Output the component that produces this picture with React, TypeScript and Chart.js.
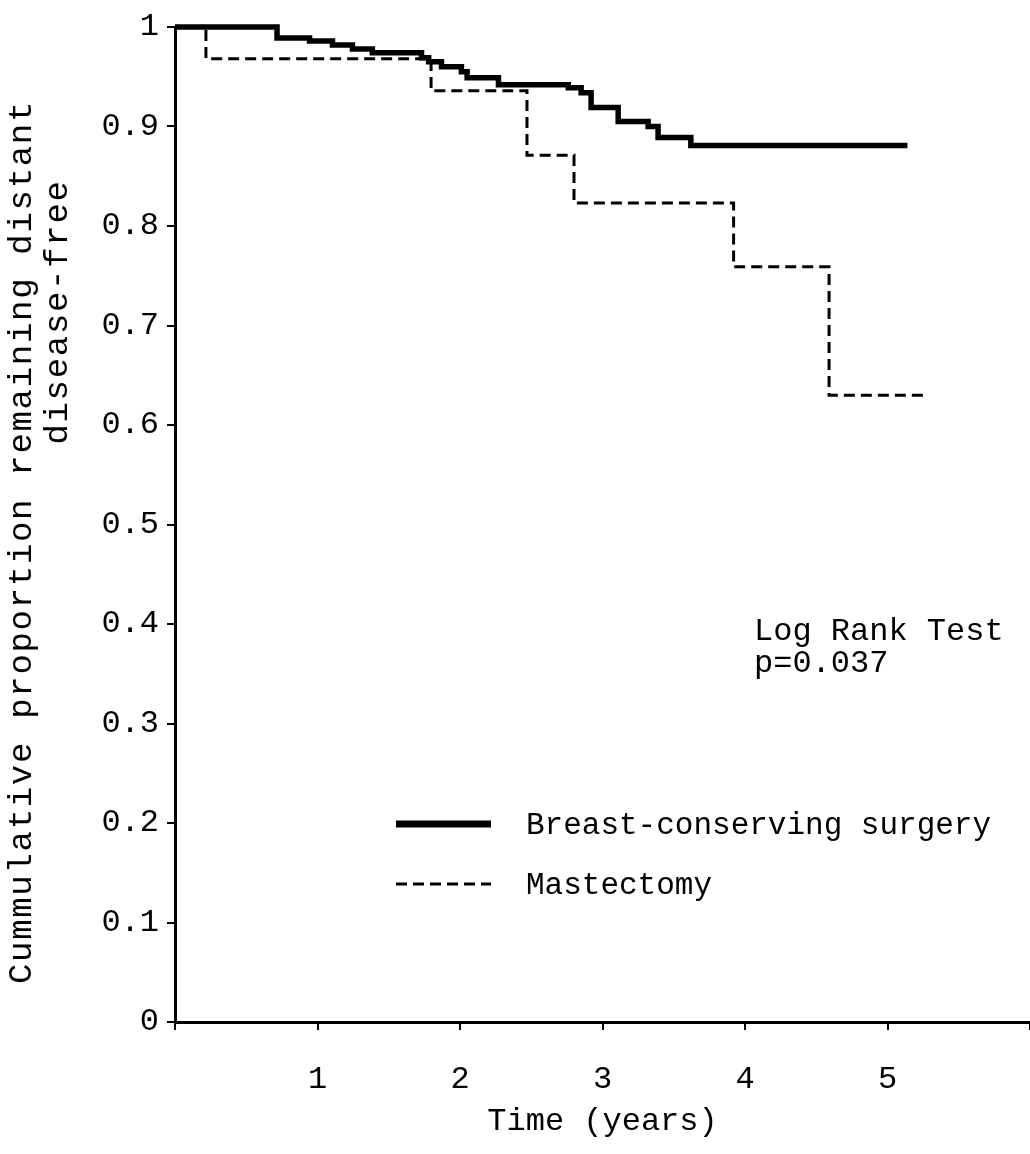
import React, { useEffect, useRef } from 'react';
import { Chart, registerables } from 'chart.js';

Chart.register(...registerables);

// Breast-conserving surgery (Kaplan-Meier steps)
const bcsTimes = [0, 0.716, 0.944, 1.105, 1.245, 1.385, 1.73, 1.78, 1.87, 2.01, 2.05, 2.27, 2.76, 2.85, 2.92, 3.11, 3.32, 3.39, 3.62, 5.14];
const bcsSurvival = [1, 0.989, 0.986, 0.982, 0.978, 0.974, 0.969, 0.965, 0.96, 0.955, 0.949, 0.942, 0.939, 0.934, 0.919, 0.905, 0.9, 0.889, 0.881, 0.881];

// Mastectomy (Kaplan-Meier steps)
const mastTimes = [0, 0.217, 1.797, 2.47, 2.8, 3.92, 4.59, 5.27];
const mastSurvival = [1, 0.968, 0.936, 0.871, 0.823, 0.759, 0.63, 0.63];

const yTickLabels = ['0', '0.1', '0.2', '0.3', '0.4', '0.5', '0.6', '0.7', '0.8', '0.9', '1'];
const xTickLabels = ['', '1', '2', '3', '4', '5', ''];

const seriesNames = ['Breast-conserving surgery', 'Mastectomy'];
const yTitleLines = ['Cummulative proportion remaining distant', 'disease-free'];
const xTitle = 'Time (years)';
const noteLines = ['Log Rank Test', 'p=0.037'];

const FONT = '"Liberation Mono", "Courier New", monospace';

const overlayPlugin = {
  id: 'overlay',
  afterDraw(chart: any) {
    const ctx = chart.ctx as CanvasRenderingContext2D;
    ctx.save();
    ctx.fillStyle = '#000';
    ctx.strokeStyle = '#000';

    // y-axis title (two rotated lines)
    ctx.font = `34px ${FONT}`;
    (ctx as any).letterSpacing = '1.7px';
    ctx.textAlign = 'center';
    ctx.textBaseline = 'middle';
    const yPos = [
      [22, 542],
      [58, 312],
    ];
    yTitleLines.forEach((t, i) => {
      ctx.save();
      ctx.translate(yPos[i][0], yPos[i][1]);
      ctx.rotate(-Math.PI / 2);
      ctx.fillText(t, 0, 0);
      ctx.restore();
    });
    (ctx as any).letterSpacing = '0px';

    // Log rank note
    ctx.font = `32px ${FONT}`;
    ctx.textAlign = 'left';
    ctx.textBaseline = 'alphabetic';
    ctx.fillText(noteLines[0], 754, 640);
    ctx.fillText(noteLines[1], 754, 672);

    // Legend
    ctx.lineCap = 'butt';
    ctx.beginPath();
    ctx.lineWidth = 7;
    ctx.setLineDash([]);
    ctx.moveTo(396, 824);
    ctx.lineTo(491, 824);
    ctx.stroke();

    ctx.beginPath();
    ctx.lineWidth = 3;
    ctx.setLineDash([11, 6]);
    ctx.moveTo(396, 884);
    ctx.lineTo(491, 884);
    ctx.stroke();
    ctx.setLineDash([]);

    ctx.font = `31px ${FONT}`;
    ctx.fillText(seriesNames[0], 526, 834);
    ctx.fillText(seriesNames[1], 526, 894);
    ctx.restore();
  },
};

export default function App() {
  const ref = useRef<HTMLCanvasElement | null>(null);

  useEffect(() => {
    if (!ref.current) return;
    const chart = new Chart(ref.current, {
      type: 'line',
      data: {
        datasets: [
          {
            label: seriesNames[0],
            data: bcsTimes.map((t, i) => ({ x: t, y: bcsSurvival[i] })),
            borderColor: '#000',
            borderWidth: 5.5,
            stepped: true,
            pointRadius: 0,
            fill: false,
            clip: false as any,
          },
          {
            label: seriesNames[1],
            data: mastTimes.map((t, i) => ({ x: t, y: mastSurvival[i] })),
            borderColor: '#000',
            borderWidth: 3,
            borderDash: [11, 6],
            stepped: true,
            pointRadius: 0,
            fill: false,
            clip: false as any,
          },
        ],
      },
      options: {
        responsive: false,
        animation: false,
        layout: { padding: { top: 27, right: 0, left: 0, bottom: 0 } },
        plugins: {
          legend: { display: false },
          tooltip: { enabled: false },
        },
        scales: {
          x: {
            type: 'linear',
            min: 0,
            max: 6,
            afterFit: (s: any) => {
              s.height = 132;
              s.paddingLeft = 0;
              s.paddingRight = 0;
            },
            ticks: {
              stepSize: 1,
              autoSkip: false,
              maxRotation: 0,
              padding: 30,
              color: '#000',
              font: { family: FONT, size: 32 },
              callback: (_v: any, i: number) => xTickLabels[i] ?? '',
            },
            grid: {
              display: true,
              drawOnChartArea: false,
              drawTicks: true,
              tickLength: 8,
              color: '#000',
              lineWidth: 2,
            },
            border: { display: true, color: '#000', width: 3 },
            title: {
              display: true,
              text: xTitle,
              color: '#000',
              font: { family: FONT, size: 32 },
              padding: { top: 0, bottom: 13 },
            },
          },
          y: {
            type: 'linear',
            min: 0,
            max: 1,
            afterFit: (s: any) => {
              s.width = 175;
              s.paddingTop = 0;
              s.paddingBottom = 0;
            },
            ticks: {
              stepSize: 0.1,
              autoSkip: false,
              padding: 8,
              color: '#000',
              font: { family: FONT, size: 32 },
              callback: (_v: any, i: number) => yTickLabels[i] ?? '',
            },
            grid: {
              display: true,
              drawOnChartArea: false,
              drawTicks: true,
              tickLength: 8,
              color: '#000',
              lineWidth: 2,
            },
            border: { display: true, color: '#000', width: 3 },
          },
        },
      },
      plugins: [overlayPlugin],
    } as any);
    return () => chart.destroy();
  }, []);

  return (
    <div style={{ position: 'fixed', left: 0, top: 0, width: 1030, height: 1154, background: '#fff' }}>
      <canvas ref={ref} width={1030} height={1154} style={{ display: 'block' }} />
    </div>
  );
}
